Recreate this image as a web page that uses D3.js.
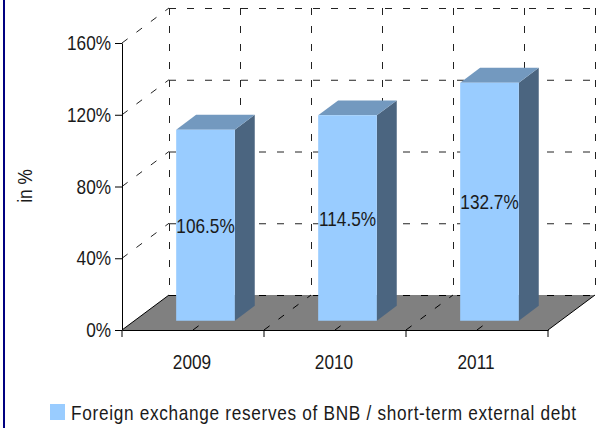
<!DOCTYPE html>
<html>
<head>
<meta charset="utf-8">
<script src="https://cdn.jsdelivr.net/npm/d3@7"></script>
<style>
  body { margin: 0; background: #fff; }
  svg { display: block; font-family: "Liberation Sans", Arial, sans-serif; }
</style>
</head>
<body>
<svg id="chart" width="596" height="428"></svg>
<script>
const years = ['2009', '2010', '2011'];
const values = [106.5, 114.5, 132.7];
const yTicks = [0, 40, 80, 120, 160];
const legendLabel = 'Foreign exchange reserves of BNB / short-term external debt';

// front plane of the 3d box, and the depth vector to the back wall
const front = {left: 122, right: 548, top: 43, bottom: 330};
const depth = {dx: 47, dy: -35};
const barDepth = [0.266, 0.69];

const colors = {front: '#99ccff', top: '#7399bf', side: '#4b6580', floor: '#808080'};
const fontSize = 21;
const squeeze = 0.82; // no narrow font installed, so squeeze Liberation Sans
const dash = '7,11';

const svg = d3.select('#chart');

// narrow text placed at (tx, ty)
function narrowText(parent, tx, ty, str) {
    return parent.append('text')
        .attr('transform', `translate(${tx},${ty}) scale(${squeeze},1)`)
        .attr('font-size', fontSize)
        .attr('fill', '#1a1a1a')
        .text(str);
}

const x = d3.scaleBand()
    .domain(years)
    .range([front.left, front.right])
    .paddingInner(0.587)
    .paddingOuter(0.2935);

const xCat = d3.scaleBand()
    .domain(years)
    .range([front.left, front.right]);

const y = d3.scaleLinear()
    .domain([0, 160])
    .range([front.bottom, front.top]);

const p = (px, py, d) => [px + depth.dx * d, py + depth.dy * d];
const path = pts => 'M' + pts.map(q => q.join(',')).join('L') + 'Z';

svg.append('rect')
    .attr('x', 3).attr('y', 0)
    .attr('width', 2).attr('height', 428)
    .attr('fill', '#000080');

const grid = svg.append('g')
    .attr('stroke', '#222')
    .attr('stroke-width', 1)
    .attr('stroke-dasharray', dash)
    .attr('fill', 'none');

// back wall horizontal lines
grid.selectAll('.hgrid')
    .data(yTicks.filter(d => d > 0))
    .join('line')
    .attr('class', 'hgrid')
    .attr('x1', p(front.left, 0, 1)[0])
    .attr('x2', p(front.right, 0, 1)[0])
    .attr('y1', d => p(0, y(d), 1)[1] + 0.5)
    .attr('y2', d => p(0, y(d), 1)[1] + 0.5);

// back wall vertical lines, at every half category
const halfSteps = d3.range(0, 7).map(i => front.left + i * xCat.step() / 2);
grid.selectAll('.vgrid')
    .data(halfSteps)
    .join('line')
    .attr('class', 'vgrid')
    .attr('x1', d => p(d, 0, 1)[0] + 0.5)
    .attr('x2', d => p(d, 0, 1)[0] + 0.5)
    .attr('y1', p(0, y(160), 1)[1])
    .attr('y2', p(0, y(0), 1)[1]);

// side wall diagonals
grid.selectAll('.sgrid')
    .data(yTicks.filter(d => d > 0))
    .join('line')
    .attr('class', 'sgrid')
    .attr('x1', front.left)
    .attr('y1', d => y(d))
    .attr('x2', p(front.left, 0, 1)[0])
    .attr('y2', d => p(0, y(d), 1)[1]);

// floor
svg.append('path')
    .attr('d', path([
        p(front.left, y(0), 0), p(front.right, y(0), 0),
        p(front.right, y(0), 1), p(front.left, y(0), 1)
    ]))
    .attr('fill', colors.floor);

const floorGrid = svg.append('g')
    .attr('stroke', '#000')
    .attr('stroke-dasharray', dash)
    .attr('fill', 'none');

floorGrid.append('line')
    .attr('x1', p(front.left, 0, 1)[0]).attr('x2', p(front.right, 0, 1)[0])
    .attr('y1', p(0, y(0), 1)[1] + 0.5).attr('y2', p(0, y(0), 1)[1] + 0.5);

floorGrid.selectAll('.fgrid')
    .data(halfSteps.slice(1, -1))
    .join('line')
    .attr('class', 'fgrid')
    .attr('x1', d => d).attr('y1', y(0))
    .attr('x2', d => p(d, 0, 1)[0]).attr('y2', p(0, y(0), 1)[1]);

// floor solid side edges
svg.append('g')
    .attr('stroke', '#000')
    .selectAll('line')
    .data([front.left, front.right])
    .join('line')
    .attr('x1', d => d).attr('y1', y(0))
    .attr('x2', d => p(d, 0, 1)[0]).attr('y2', p(0, y(0), 1)[1]);

// bars
const bars = svg.selectAll('.bar')
    .data(years.map((yr, i) => ({year: yr, value: values[i]})))
    .join('g')
    .attr('class', 'bar');

bars.each(function(d) {
    const g = d3.select(this);
    const x0 = x(d.year), x1 = x(d.year) + x.bandwidth();
    const yt = y(d.value), yb = y(0);
    const [d0, d1] = barDepth;
    g.append('path')
        .attr('d', path([p(x1, yb, d0), p(x1, yb, d1), p(x1, yt, d1), p(x1, yt, d0)]))
        .attr('fill', colors.side);
    g.append('path')
        .attr('d', path([p(x0, yt, d0), p(x1, yt, d0), p(x1, yt, d1), p(x0, yt, d1)]))
        .attr('fill', colors.top);
    g.append('path')
        .attr('d', path([p(x0, yb, d0), p(x1, yb, d0), p(x1, yt, d0), p(x0, yt, d0)]))
        .attr('fill', colors.front);
    const c = p((x0 + x1) / 2, (yt + yb) / 2, d0);
    narrowText(g, c[0], c[1], `${d.value.toFixed(1)}%`)
        .attr('dy', '0.36em')
        .attr('text-anchor', 'middle');
});

// y axis
const yAxis = svg.append('g')
    .attr('transform', `translate(${front.left},0)`)
    .call(d3.axisLeft(y).tickValues(yTicks).tickFormat(d => d + '%').tickSize(7).tickSizeOuter(0));
yAxis.attr('font-family', null);
yAxis.select('.domain').attr('stroke', '#000');
yAxis.selectAll('.tick line').attr('stroke', '#000');
yAxis.selectAll('.tick text')
    .attr('font-size', fontSize)
    .attr('fill', '#1a1a1a')
    .attr('x', 0)
    .attr('transform', `translate(-11,0) scale(${squeeze},1)`);

// x axis
const xAxis = svg.append('g')
    .attr('transform', `translate(0,${front.bottom})`)
    .call(d3.axisBottom(xCat).tickSize(0).tickSizeOuter(0));
xAxis.attr('font-family', null);
xAxis.select('.domain').attr('stroke', '#000');
xAxis.selectAll('.tick text')
    .attr('font-size', fontSize)
    .attr('fill', '#1a1a1a')
    .attr('y', 0)
    .attr('dy', 0)
    .attr('transform', `translate(-1,39) scale(${squeeze},1)`);
xAxis.selectAll('.cat-tick')
    .data(d3.range(0, 4).map(i => front.left + i * xCat.step()))
    .join('line')
    .attr('class', 'cat-tick')
    .attr('x1', d => d).attr('x2', d => d)
    .attr('y1', 0).attr('y2', 7)
    .attr('stroke', '#000');

// axis title
svg.append('text')
    .attr('transform', `translate(32,186) rotate(-90) scale(${squeeze},1)`)
    .attr('text-anchor', 'middle')
    .attr('font-size', fontSize)
    .attr('fill', '#1a1a1a')
    .text('in %');

// legend
svg.append('rect')
    .attr('x', 50).attr('y', 404)
    .attr('width', 15).attr('height', 16)
    .attr('fill', colors.front);
narrowText(svg, 71, 420, legendLabel)
    .attr('textLength', 505 / squeeze)
    .attr('lengthAdjust', 'spacing');
</script>
</body>
</html>
